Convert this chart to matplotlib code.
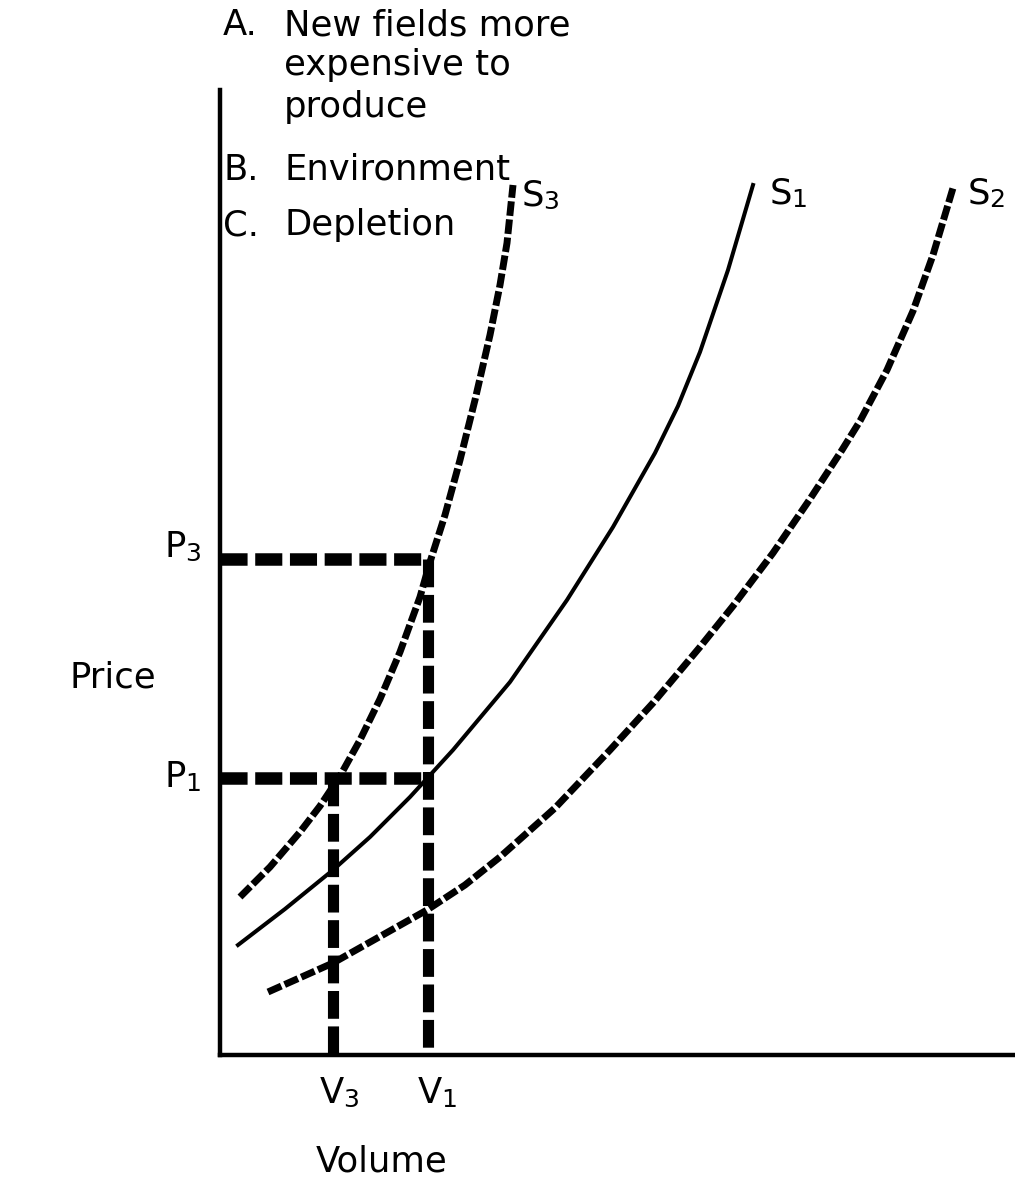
import numpy as np
import matplotlib
matplotlib.use("Agg")
from matplotlib import pyplot as plt

plt.rcParams['font.family'] = ['DejaVu Sans']
plt.rcParams['lines.scale_dashes'] = False

# supply curves (volume, price)
s1_x = [2.25, 8.125, 14.125, 18.75, 23.75, 29.125, 36.25, 43.375, 49.125, 54.375,
        57.25, 60.0, 63.5, 66.625]
s1_y = [11.0, 14.6, 18.5, 21.8, 25.8, 30.5, 37.3, 45.5, 52.8, 60.2,
        64.9, 70.3, 78.5, 87.0]

s3_x = [2.5, 6.25, 10.0, 12.5, 15.0, 17.5, 20.0, 22.5, 25.0, 26.25, 28.125, 30.0,
        31.875, 33.75, 35.0, 35.875, 36.625]
s3_y = [15.8, 18.8, 22.3, 24.9, 27.9, 31.5, 35.6, 40.3, 45.8, 49.3, 54.0, 59.5,
        65.5, 72.0, 77.0, 81.2, 87.0]

s2_x = [6.0, 14.125, 25.875, 30.625, 35.0, 41.875, 48.75, 54.125, 60.0, 64.125, 69.125,
        73.75, 77.75, 80.0, 83.375, 86.625, 89.125, 91.625]
s2_y = [6.3, 9.2, 14.5, 17.0, 19.8, 24.7, 30.5, 35.2, 40.8, 44.9, 50.2,
        55.6, 60.5, 63.4, 68.5, 74.4, 80.0, 86.7]

# equilibrium levels
p3, p1 = 49.6, 27.7
v3, v1 = 14.1, 26.0

notes = [('A.', 'New fields more'), ('', 'expensive to'), ('', 'produce'),
         ('B.', 'Environment'), ('C.', 'Depletion')]

FS = 25.5
SFS = 18

fig = plt.figure(figsize=(10.15, 11.82), dpi=100)
ax = fig.add_axes([220/1015, 127/1182, 795/1015, 965/1182])
ax.set_xlim(0, 99.375)
ax.set_ylim(0, 96.5)
ax.set_xticks([])
ax.set_yticks([])
for s in ['top', 'right']:
    ax.spines[s].set_visible(False)
for s in ['left', 'bottom']:
    ax.spines[s].set_linewidth(3.2)
    ax.spines[s].set_color('black')

# dashed guide lines
hguide = dict(color='black', lw=9.0, dashes=(19.5, 5.5), zorder=2)
vguide = dict(color='black', lw=8.0, dashes=(20.0, 5.5), zorder=2)
ax.plot([0, v1], [p3, p3], **hguide)
ax.plot([0, v1], [p1, p1], **hguide)
ax.plot([v1, v1], [p3, 0], **vguide)
ax.plot([v3, v3], [p1, 0], **vguide)

ax.plot(s1_x, s1_y, color='black', lw=2.9, solid_joinstyle='round', zorder=3)
curve = dict(color='black', lw=5.0, dashes=(10.5, 2.6), dash_joinstyle='round', zorder=3)
ax.plot(s3_x, s3_y, **curve)
ax.plot(s2_x, s2_y, **curve)


def label(x, y, main, sub):
    t = ax.text(x, y, main, fontsize=FS, ha='left', va='baseline', clip_on=False)
    ax.annotate(sub, xy=(1, 0), xycoords=t, xytext=(-1, -1.5), textcoords='offset points',
                fontsize=SFS, ha='left', va='bottom', annotation_clip=False)


label(37.75, 85.0, 'S', '3')
label(68.75, 85.2, 'S', '1')
label(93.5, 85.2, 'S', '2')
label(-6.9, p3 + 0.2, 'P', '3')
label(-6.9, p1 - 0.9, 'P', '1')
label(12.5, -4.8, 'V', '3')
label(24.75, -4.8, 'V', '1')

ax.text(-13.4, 36.8, 'Price', fontsize=FS, ha='center', va='baseline', clip_on=False)
ax.text(20.25, -11.7, 'Volume', fontsize=FS, ha='center', va='baseline', clip_on=False)

note_y = [102.0, 98.0, 93.8, 87.5, 82.0]
for (tag, txt), yy in zip(notes, note_y):
    if tag:
        ax.text(0.4, yy, tag, fontsize=FS, ha='left', va='baseline', clip_on=False)
    ax.text(8.0, yy, txt, fontsize=FS, ha='left', va='baseline', clip_on=False)

fig.savefig('out.png', dpi=100, facecolor='white')
